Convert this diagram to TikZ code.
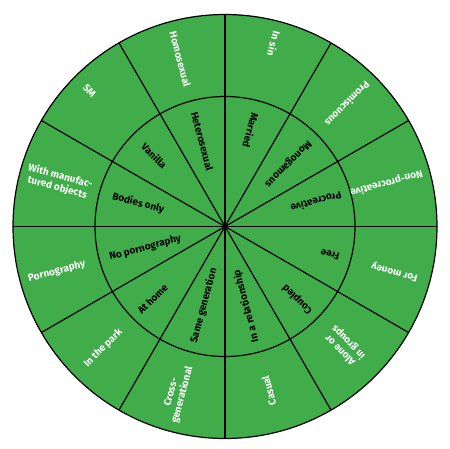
\documentclass[tikz,border=0pt]{standalone}
\usepackage{fontspec}
\setmainfont{Fira Sans}
\usepackage{tikz}
\definecolor{wheelgreen}{RGB}{64,173,74}

\tikzset{
  inlabel/.style={font=\bfseries\fontsize{10}{11.5}\selectfont,text=black,inner sep=0pt,anchor=west},
  outlabel/.style={font=\bfseries\fontsize{10}{11.5}\selectfont,text=white,inner sep=0pt,align=center},
}

\begin{document}
\begin{tikzpicture}[x=1pt,y=1pt,line width=1.2pt]
  \useasboundingbox (-225,-221.5) rectangle (225,226.5);
  \coordinate (c) at (0,0);
  \fill[wheelgreen] (c) circle (212);
  \foreach \a in {0,30,...,330}
    \draw (c) -- (\a:212);
  \draw (c) circle (130);
  \draw (c) circle (212);

  % inner ring
  \node[inlabel,rotate=285] (hetero) at (105:119) {Heterosexual};
  \node[inlabel,rotate=255] (married) at (75:118) {Married};
  \node[inlabel,rotate=225] (mono) at (45:120) {Monogamous};
  \node[inlabel,rotate=195] (procr) at (15:121) {Procreative};
  \node[inlabel,rotate=165] (free) at (-15:119) {Free};
  \node[inlabel,rotate=135] (coupled) at (-45:122) {Coupled};
  \node[inlabel,rotate=105] (relation) at (-75:120) {In a relationship};
  \node[inlabel,rotate=75] (samegen) at (-105:121) {Same generation};
  \node[inlabel,rotate=45] (home) at (-135:122) {At home};
  \node[inlabel,rotate=15] (noporn) at (-165:120) {No pornography};
  \node[inlabel,rotate=345] (bodies) at (165:117) {Bodies only};
  \node[inlabel,rotate=315] (vanilla) at (135:116) {Vanilla};

  % outer ring
  \node[outlabel,anchor=west,rotate=285] (homo) at (105:202) {Homosexual};
  \node[outlabel,anchor=west,rotate=255] (insin) at (75:202) {In sin};
  \node[outlabel,anchor=west,rotate=225] (promis) at (45:203) {Promiscuous};
  \node[outlabel,anchor=west,rotate=195] (nonprocr) at (15:205) {Non-procreative};
  \node[outlabel,anchor=west,rotate=165] (money) at (-15:200) {For money};
  \node[outlabel,rotate=135] (groups) at (-45:169) {Alone or\\in groups};
  \node[outlabel,rotate=105] (casual) at (-75:170) {Casual};
  \node[outlabel,rotate=75] (crossgen) at (-106:174) {Cross-\\generational};
  \node[outlabel,rotate=45] (park) at (-135:172) {In the park};
  \node[outlabel,anchor=west,rotate=15] (porn) at (-165:204) {Pornography};
  \node[outlabel,rotate=345] (objects) at (165:172) {With manufac-\\tured objects};
  \node[outlabel,anchor=west,rotate=315] (sm) at (135:199) {SM};
\end{tikzpicture}
\end{document}
